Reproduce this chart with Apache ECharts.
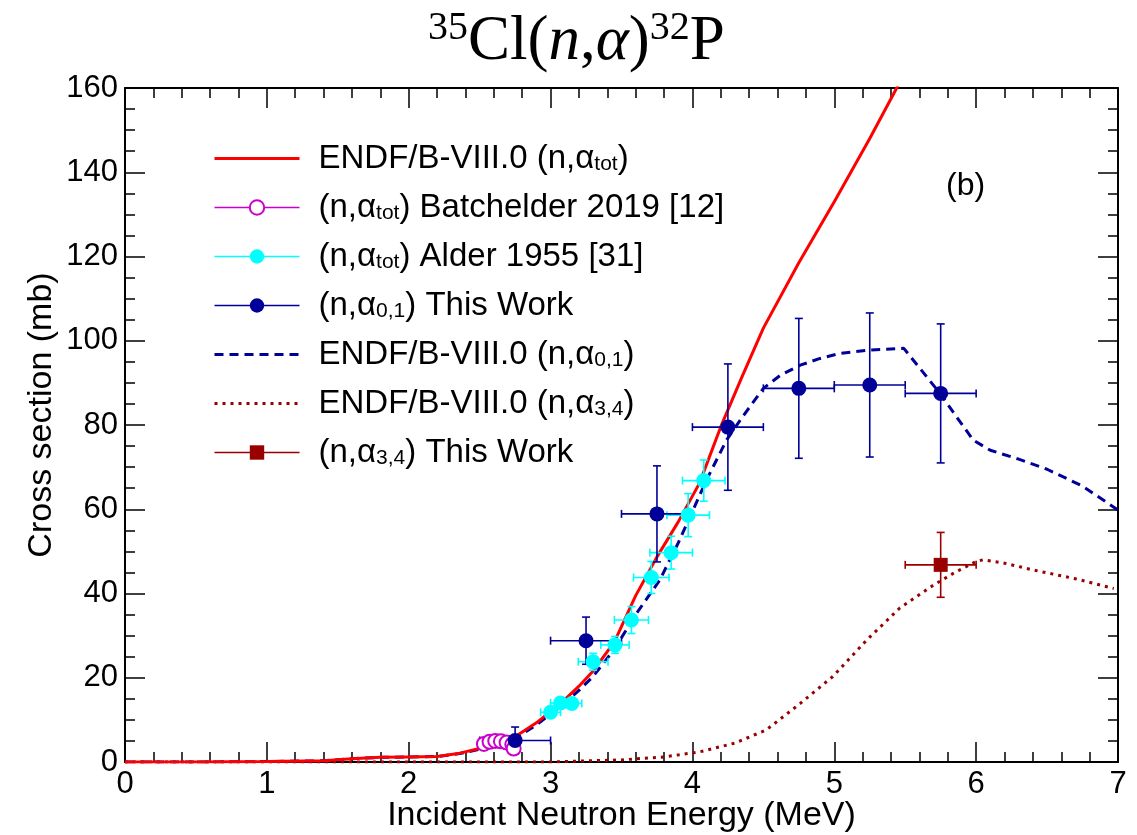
<!DOCTYPE html>
<html><head><meta charset="utf-8">
<script src="https://cdn.jsdelivr.net/npm/echarts@6/dist/echarts.min.js"></script>
<style>html,body{margin:0;padding:0;background:#fff}#c{width:1137px;height:835px}</style>
</head><body><div id="c"></div>
<script>
// ---- data ----
const endfTotE = [0, 0.5, 1.0, 1.4, 1.6, 1.8, 2.0, 2.2, 2.36, 2.5, 2.6, 2.75, 2.9, 3.0, 3.1, 3.2, 3.3, 3.45, 3.6, 3.75, 3.9, 4.05, 4.2, 4.35, 4.5, 4.75, 5.0, 5.25, 5.44, 5.6];
const endfTot  = [0, 0, 0.1, 0.3, 0.8, 1.1, 1.2, 1.3, 2.1, 3.2, 4.2, 6.0, 9.3, 12, 14.8, 18.0, 21.6, 28.5, 39.5, 48.7, 57, 66.2, 79.6, 91.5, 103, 118.5, 133, 148, 160, 170];

const endf01E = [0, 0.5, 1.0, 1.4, 1.6, 1.8, 2.0, 2.2, 2.36, 2.5, 2.6, 2.75, 2.9, 3.0, 3.1, 3.2, 3.3, 3.45, 3.6, 3.77, 3.9, 4.0, 4.1, 4.24, 4.35, 4.5, 4.62, 4.76, 4.9, 5.04, 5.25, 5.49, 5.6, 5.745, 5.85, 5.98, 6.1, 6.29, 6.5, 6.75, 7.0];
const endf01  = [0, 0, 0.1, 0.3, 0.8, 1.1, 1.2, 1.3, 2.0, 3.0, 4.0, 5.6, 8.8, 11.4, 14.0, 17.0, 20.3, 26.8, 35.0, 43.2, 52, 59.5, 67, 76.4, 81.8, 88.7, 91.8, 94.2, 95.8, 97, 97.8, 98.2, 93.6, 87.5, 82.5, 76.4, 74, 72, 69.5, 65.5, 59.8];

const endf34E = [0, 3.0, 3.5, 3.8, 4.05, 4.3, 4.52, 4.76, 4.99, 5.23, 5.46, 5.70, 5.85, 6.0, 6.05, 6.2, 6.4, 6.7, 6.97];
const endf34  = [0, 0, 0.5, 1.2, 2.4, 4.5, 7.6, 13.9, 20.3, 29, 36.5, 42, 45, 47.6, 48, 47.2, 45.6, 43.5, 41.2];

const batchE  = [2.53, 2.57, 2.61, 2.65, 2.69, 2.73, 2.74];
const batchV  = [4.3, 4.8, 5.0, 4.9, 4.6, 4.2, 3.2];
const batchEx = [0.02, 0.02, 0.02, 0.02, 0.02, 0.02, 0.02];
const batchVe = [0.5, 0.5, 0.5, 0.5, 0.5, 0.5, 0.5];

const alderE  = [3.0, 3.07, 3.15, 3.30, 3.454, 3.57, 3.71, 3.85, 3.97, 4.08];
const alderV  = [11.8, 14.0, 13.9, 23.8, 27.8, 33.7, 43.8, 49.7, 58.6, 66.8];
const alderEx = [0.07, 0.07, 0.07, 0.105, 0.1, 0.12, 0.125, 0.15, 0.15, 0.15];
const alderVe = [1, 1, 1, 2, 2, 3.2, 3.8, 3.9, 5.1, 4.9];

const work01E  = [2.75, 3.25, 3.75, 4.25, 4.75, 5.25, 5.75];
const work01V  = [5.1, 28.8, 58.9, 79.5, 88.7, 89.5, 87.5];
const work01Ex = [0.25, 0.25, 0.25, 0.25, 0.25, 0.25, 0.25];
const work01Ve = [3.2, 5.6, 11.4, 15, 16.6, 17.1, 16.5];

const work34E  = [5.75];
const work34V  = [46.8];
const work34Ex = [0.25];
const work34Ve = [7.7];

const names = [
  'ENDF/B-VIII.0 (n,α_tot)',
  '(n,α_tot) Batchelder 2019 [12]',
  '(n,α_tot) Alder 1955 [31]',
  '(n,α_0,1) This Work',
  'ENDF/B-VIII.0 (n,α_0,1)',
  'ENDF/B-VIII.0 (n,α_3,4)',
  '(n,α_3,4) This Work'
];

// ---- build ----
const SANS = 'Liberation Sans, Arial, Helvetica, sans-serif';
const SERIF = 'Liberation Serif, Times New Roman, serif';
const pairs = (xs, ys) => xs.map((x, i) => [x, ys[i]]);
const errData = (xs, ys, xe, ye) => xs.map((x, i) => [x, ys[i], xe[i], ye[i]]);

function errorBars(color, cap, lw) {
  return function (params, api) {
    const x = api.value(0), y = api.value(1), dx = api.value(2), dy = api.value(3);
    const c = api.coord([x, y]);
    const l = api.coord([x - dx, y]), r = api.coord([x + dx, y]);
    const t = api.coord([x, y + dy]), b = api.coord([x, y - dy]);
    const st = { stroke: color, lineWidth: lw };
    const ch = [];
    if (dx > 0) {
      ch.push({ type: 'line', shape: { x1: l[0], y1: c[1], x2: r[0], y2: c[1] }, style: st });
      ch.push({ type: 'line', shape: { x1: l[0], y1: c[1] - cap, x2: l[0], y2: c[1] + cap }, style: st });
      ch.push({ type: 'line', shape: { x1: r[0], y1: c[1] - cap, x2: r[0], y2: c[1] + cap }, style: st });
    }
    if (dy > 0) {
      ch.push({ type: 'line', shape: { x1: c[0], y1: t[1], x2: c[0], y2: b[1] }, style: st });
      ch.push({ type: 'line', shape: { x1: c[0] - cap, y1: t[1], x2: c[0] + cap, y2: t[1] }, style: st });
      ch.push({ type: 'line', shape: { x1: c[0] - cap, y1: b[1], x2: c[0] + cap, y2: b[1] }, style: st });
    }
    return { type: 'group', children: ch };
  };
}
function errSeries(name, data, color) {
  return { name: name, type: 'custom', data: data, renderItem: errorBars(color, 4, 1.6), clip: true, z: 4,
           encode: { x: 0, y: 1 }, silent: true };
}
function markerSeries(name, data, color, symbol, size) {
  return { name: name, type: 'line', data: data, symbol: symbol, symbolSize: size, showSymbol: true,
           itemStyle: { color: color, borderColor: color, borderWidth: symbol === 'emptyCircle' ? 1.5 : 0 },
           lineStyle: { color: color, width: 1.5, opacity: 0 }, z: 5, animation: false, silent: true };
}

const C_BLUE = '#000099', C_RED = '#ff0000', C_DRED = '#990000', C_CYAN = '#00ffff', C_MAG = '#cc00cc';

const series = [
  { name: names[4], type: 'line', data: pairs(endf01E, endf01), symbol: 'none', showSymbol: false,
    lineStyle: { color: C_BLUE, width: 3, type: [9, 6] }, itemStyle: { color: C_BLUE }, z: 2, animation: false },
  { name: names[0], type: 'line', data: pairs(endfTotE, endfTot), symbol: 'none', showSymbol: false,
    lineStyle: { color: C_RED, width: 3 }, itemStyle: { color: C_RED }, z: 3, animation: false },
  { name: names[5], type: 'line', data: pairs(endf34E, endf34), symbol: 'none', showSymbol: false,
    lineStyle: { color: C_DRED, width: 3, type: [3, 5] }, itemStyle: { color: C_DRED }, z: 2, animation: false },
  errSeries('errBatch', errData(batchE, batchV, batchEx, batchVe), C_MAG),
  errSeries('errAlder', errData(alderE, alderV, alderEx, alderVe), C_CYAN),
  errSeries('err01', errData(work01E, work01V, work01Ex, work01Ve), C_BLUE),
  errSeries('err34', errData(work34E, work34V, work34Ex, work34Ve), C_DRED),
  markerSeries(names[1], pairs(batchE, batchV), C_MAG, 'emptyCircle', 14),
  markerSeries(names[2], pairs(alderE, alderV), C_CYAN, 'circle', 15),
  markerSeries(names[3], pairs(work01E, work01V), C_BLUE, 'circle', 15),
  markerSeries(names[6], pairs(work34E, work34V), C_DRED, 'rect', 14)
];

const legendData = [
  { name: names[0], itemStyle: { opacity: 0 }, lineStyle: { width: 3 } },
  { name: names[1], lineStyle: { width: 1.5, opacity: 1 } },
  { name: names[2], lineStyle: { width: 1.5, opacity: 1 } },
  { name: names[3], lineStyle: { width: 1.5, opacity: 1 } },
  { name: names[4], itemStyle: { opacity: 0 }, lineStyle: { width: 3 } },
  { name: names[5], itemStyle: { opacity: 0 }, lineStyle: { width: 3 } },
  { name: names[6], lineStyle: { width: 1.5, opacity: 1 } }
];

const axisCommon = {
  type: 'value', min: 0,
  axisLine: { show: true, onZero: false, lineStyle: { color: '#000', width: 2 } },
  splitLine: { show: false },
  axisTick: { show: true, inside: true, length: 20, lineStyle: { color: '#000', width: 1.5 } },
  minorTick: { show: true, length: 10, lineStyle: { color: '#000', width: 1.5 } }
};

const option = {
  backgroundColor: '#fff',
  animation: false,
  title: {
    text: '{sup|35}{t|Cl(}{i|n}{t|,}{i|α}{t|)}{sup|32}{t|P}',
    left: 423, top: 3,
    textStyle: {
      fontWeight: 'normal',
      rich: {
        t: { fontFamily: SERIF, fontSize: 63, fontWeight: 'normal', color: '#000', verticalAlign: 'bottom', lineHeight: 66 },
        i: { fontFamily: SERIF, fontSize: 63, fontWeight: 'normal', fontStyle: 'italic', color: '#000', verticalAlign: 'bottom', lineHeight: 66 },
        sup: { fontFamily: SERIF, fontSize: 40, fontWeight: 'normal', color: '#000', verticalAlign: 'top', lineHeight: 40 }
      }
    }
  },
  grid: { left: 125, right: 19, top: 88, bottom: 73, containLabel: false, outerBoundsMode: 'none' },
  xAxis: [
    Object.assign({}, axisCommon, {
      position: 'bottom', max: 7, interval: 1,
      minorTick: Object.assign({}, axisCommon.minorTick, { splitNumber: 5 }),
      name: 'Incident Neutron Energy (MeV)', nameLocation: 'middle', nameGap: 37, nameMoveOverlap: false,
      nameTextStyle: { fontFamily: SANS, fontSize: 34, color: '#000', verticalAlign: 'top' },
      axisLabel: { fontFamily: SANS, fontSize: 31, color: '#000', margin: 7 }
    }),
    Object.assign({}, axisCommon, {
      position: 'top', max: 7, interval: 1,
      minorTick: Object.assign({}, axisCommon.minorTick, { splitNumber: 5 }),
      axisLabel: { show: false }
    })
  ],
  yAxis: [
    Object.assign({}, axisCommon, {
      position: 'left', max: 160, interval: 20,
      minorTick: Object.assign({}, axisCommon.minorTick, { splitNumber: 4 }),
      name: 'Cross section (mb)', nameLocation: 'middle', nameGap: 66, nameMoveOverlap: false,
      nameTextStyle: { fontFamily: SANS, fontSize: 34, color: '#000', padding: [0, 0, 0, 20] },
      axisLabel: { fontFamily: SANS, fontSize: 31, color: '#000', margin: 7 }
    }),
    Object.assign({}, axisCommon, {
      position: 'right', max: 160, interval: 20,
      minorTick: Object.assign({}, axisCommon.minorTick, { splitNumber: 4 }),
      axisLabel: { show: false }
    })
  ],
  legend: {
    orient: 'vertical', left: 208, top: 137,
    itemWidth: 85, itemHeight: 18, itemGap: 16,
    selectedMode: false,
    data: legendData,
    formatter: function (name) {
      return '{g|}{m|' + name.replace(/_(tot|0,1|3,4)/, '}{s|$1}{m|') + '}';
    },
    textStyle: {
      color: '#000',
      rich: {
        g: { width: 14 },
        m: { fontFamily: SANS, fontSize: 33, color: '#000', lineHeight: 32, verticalAlign: 'middle' },
        s: { fontFamily: SANS, fontSize: 21, color: '#000', lineHeight: 8, verticalAlign: 'bottom' }
      }
    }
  },
  graphic: [
    { type: 'text', left: 946, top: 170, style: { text: '(b)', font: '32px ' + SANS, fill: '#000' } }
  ],
  series: series
};

const chart = echarts.init(document.getElementById('c'), null, { renderer: 'canvas' });
chart.setOption(option);
</script>
</body></html>
